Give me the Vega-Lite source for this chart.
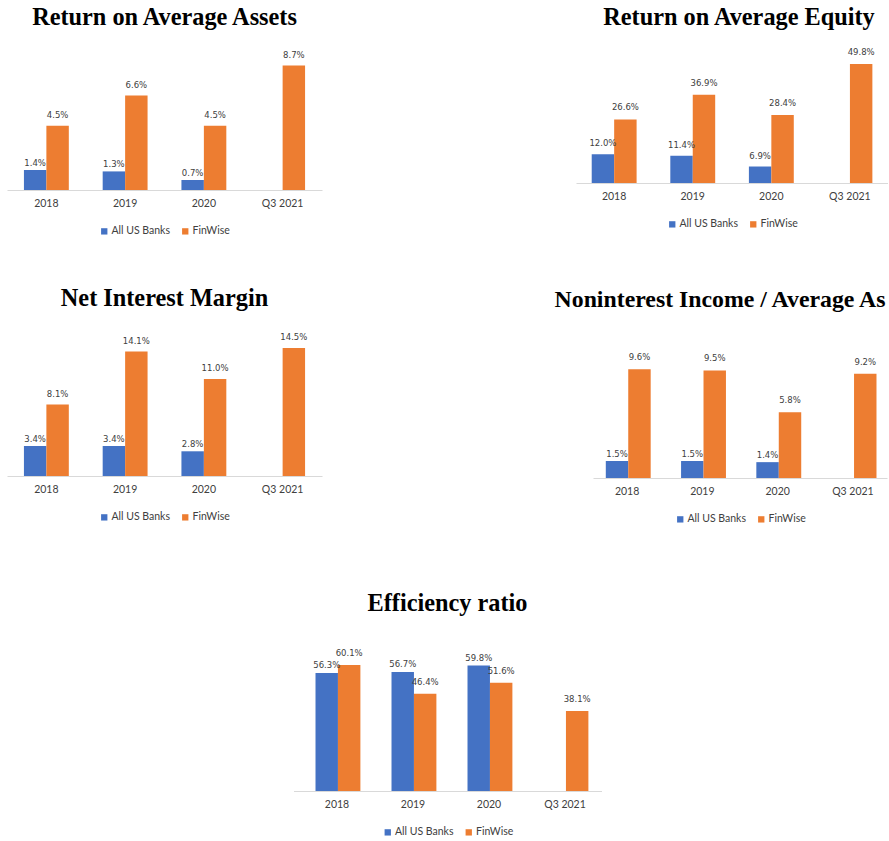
{
  "$schema": "https://vega.github.io/schema/vega-lite/v6.json",
  "padding": {"left": 7, "top": 6, "right": 0, "bottom": 0},
  "background": "white",
  "datasets": {
    "roa": [
      {"period": "2018", "series": "All US Banks", "value": 0.014},
      {"period": "2018", "series": "FinWise", "value": 0.045},
      {"period": "2019", "series": "All US Banks", "value": 0.013},
      {"period": "2019", "series": "FinWise", "value": 0.066},
      {"period": "2020", "series": "All US Banks", "value": 0.007},
      {"period": "2020", "series": "FinWise", "value": 0.045},
      {"period": "Q3 2021", "series": "FinWise", "value": 0.087}
    ],
    "roe": [
      {"period": "2018", "series": "All US Banks", "value": 0.12},
      {"period": "2018", "series": "FinWise", "value": 0.266},
      {"period": "2019", "series": "All US Banks", "value": 0.114},
      {"period": "2019", "series": "FinWise", "value": 0.369},
      {"period": "2020", "series": "All US Banks", "value": 0.069},
      {"period": "2020", "series": "FinWise", "value": 0.284},
      {"period": "Q3 2021", "series": "FinWise", "value": 0.498}
    ],
    "nim": [
      {"period": "2018", "series": "All US Banks", "value": 0.034},
      {"period": "2018", "series": "FinWise", "value": 0.081},
      {"period": "2019", "series": "All US Banks", "value": 0.034},
      {"period": "2019", "series": "FinWise", "value": 0.141},
      {"period": "2020", "series": "All US Banks", "value": 0.028},
      {"period": "2020", "series": "FinWise", "value": 0.11},
      {"period": "Q3 2021", "series": "FinWise", "value": 0.145}
    ],
    "nii": [
      {"period": "2018", "series": "All US Banks", "value": 0.015},
      {"period": "2018", "series": "FinWise", "value": 0.096},
      {"period": "2019", "series": "All US Banks", "value": 0.015},
      {"period": "2019", "series": "FinWise", "value": 0.095},
      {"period": "2020", "series": "All US Banks", "value": 0.014},
      {"period": "2020", "series": "FinWise", "value": 0.058},
      {"period": "Q3 2021", "series": "FinWise", "value": 0.092}
    ],
    "eff": [
      {"period": "2018", "series": "All US Banks", "value": 0.563},
      {"period": "2018", "series": "FinWise", "value": 0.601},
      {"period": "2019", "series": "All US Banks", "value": 0.567},
      {"period": "2019", "series": "FinWise", "value": 0.464},
      {"period": "2020", "series": "All US Banks", "value": 0.598},
      {"period": "2020", "series": "FinWise", "value": 0.516},
      {"period": "Q3 2021", "series": "FinWise", "value": 0.381}
    ]
  },
  "vconcat": [
    {
      "vconcat": [
        {
          "hconcat": [
            {
              "data": {"name": "roa"},
              "title": {"text": "Return on Average Assets"},
              "width": 315, "height": 143,
              "encoding": {
                "x": {"field": "period", "type": "nominal", "sort": ["2018", "2019", "2020", "Q3 2021"], "title": null, "scale": {"paddingInner": 0.43, "paddingOuter": 0.215}},
                "xOffset": {"field": "series", "type": "nominal", "scale": {"domain": ["All US Banks", "FinWise"], "paddingInner": 0, "paddingOuter": 0}},
                "y": {"field": "value", "type": "quantitative", "scale": {"domain": [0, 0.1]}, "axis": null}
              },
              "layer": [
                {"mark": {"type": "bar"}, "encoding": {"color": {"field": "series", "type": "nominal", "scale": {"domain": ["All US Banks", "FinWise"], "range": ["#4472C4", "#ED7D31"]}, "legend": {"title": null}}}},
                {"transform": [{"filter": "datum.series === 'FinWise'"}], "mark": {"type": "text", "baseline": "bottom", "dy": -6}, "encoding": {"text": {"field": "value", "type": "quantitative", "format": ".1%"}}},
                {"transform": [{"filter": "datum.series === 'All US Banks'"}], "mark": {"type": "text", "baseline": "bottom", "dy": -2}, "encoding": {"text": {"field": "value", "type": "quantitative", "format": ".1%"}}}
              ]
            },
            {
              "data": {"name": "roe"},
              "title": {"text": "Return on Average Equity", "dx": 7},
              "width": 312, "height": 136,
              "encoding": {
                "x": {"field": "period", "type": "nominal", "sort": ["2018", "2019", "2020", "Q3 2021"], "title": null, "scale": {"paddingInner": 0.43, "paddingOuter": 0.2}},
                "xOffset": {"field": "series", "type": "nominal", "scale": {"domain": ["All US Banks", "FinWise"], "paddingInner": 0, "paddingOuter": 0}},
                "y": {"field": "value", "type": "quantitative", "scale": {"domain": [0, 0.569]}, "axis": null}
              },
              "layer": [
                {"mark": {"type": "bar"}, "encoding": {"color": {"field": "series", "type": "nominal", "scale": {"domain": ["All US Banks", "FinWise"], "range": ["#4472C4", "#ED7D31"]}, "legend": {"title": null}}}},
                {"transform": [{"filter": "datum.series === 'FinWise'"}], "mark": {"type": "text", "baseline": "bottom", "dy": -7}, "encoding": {"text": {"field": "value", "type": "quantitative", "format": ".1%"}}},
                {"transform": [{"filter": "datum.series === 'All US Banks'"}], "mark": {"type": "text", "baseline": "bottom", "dy": -6}, "encoding": {"text": {"field": "value", "type": "quantitative", "format": ".1%"}}}
              ]
            }
          ],
          "spacing": 254,
          "resolve": {"scale": {"x": "independent", "y": "independent", "color": "independent"}, "legend": {"color": "independent"}}
        },
        {
          "hconcat": [
            {
              "data": {"name": "nim"},
              "title": {"text": "Net Interest Margin"},
              "width": 315, "height": 148,
              "encoding": {
                "x": {"field": "period", "type": "nominal", "sort": ["2018", "2019", "2020", "Q3 2021"], "title": null, "scale": {"paddingInner": 0.43, "paddingOuter": 0.215}},
                "xOffset": {"field": "series", "type": "nominal", "scale": {"domain": ["All US Banks", "FinWise"], "paddingInner": 0, "paddingOuter": 0}},
                "y": {"field": "value", "type": "quantitative", "scale": {"domain": [0, 0.1677]}, "axis": null}
              },
              "layer": [
                {"mark": {"type": "bar"}, "encoding": {"color": {"field": "series", "type": "nominal", "scale": {"domain": ["All US Banks", "FinWise"], "range": ["#4472C4", "#ED7D31"]}, "legend": {"title": null}}}},
                {"transform": [{"filter": "datum.series === 'FinWise'"}], "mark": {"type": "text", "baseline": "bottom", "dy": -6}, "encoding": {"text": {"field": "value", "type": "quantitative", "format": ".1%"}}},
                {"transform": [{"filter": "datum.series === 'All US Banks'"}], "mark": {"type": "text", "baseline": "bottom", "dy": -2}, "encoding": {"text": {"field": "value", "type": "quantitative", "format": ".1%"}}}
              ]
            },
            {
              "data": {"name": "nii"},
              "title": {"text": "Noninterest Income / Average As", "dx": -20, "fontSize": 23.8},
              "width": 294, "height": 150,
              "encoding": {
                "x": {"field": "period", "type": "nominal", "sort": ["2018", "2019", "2020", "Q3 2021"], "title": null, "scale": {"paddingInner": 0.434, "paddingOuter": 0.17}},
                "xOffset": {"field": "series", "type": "nominal", "scale": {"domain": ["All US Banks", "FinWise"], "paddingInner": 0, "paddingOuter": 0}},
                "y": {"field": "value", "type": "quantitative", "scale": {"domain": [0, 0.1325]}, "axis": null}
              },
              "layer": [
                {"mark": {"type": "bar"}, "encoding": {"color": {"field": "series", "type": "nominal", "scale": {"domain": ["All US Banks", "FinWise"], "range": ["#4472C4", "#ED7D31"]}, "legend": {"title": null}}}},
                {"transform": [{"filter": "datum.series === 'FinWise'"}], "mark": {"type": "text", "baseline": "bottom", "dy": -7}, "encoding": {"text": {"field": "value", "type": "quantitative", "format": ".1%"}}},
                {"transform": [{"filter": "datum.series === 'All US Banks'"}], "mark": {"type": "text", "baseline": "bottom", "dy": -2}, "encoding": {"text": {"field": "value", "type": "quantitative", "format": ".1%"}}}
              ]
            }
          ],
          "spacing": 231,
          "resolve": {"scale": {"x": "independent", "y": "independent", "color": "independent"}, "legend": {"color": "independent"}}
        }
      ],
      "spacing": 50,
      "resolve": {"scale": {"x": "independent", "y": "independent", "color": "independent"}, "legend": {"color": "independent"}}
    },
    {
      "data": {"name": "eff"},
      "title": {"text": "Efficiency ratio"},
      "width": 308, "height": 158,
      "encoding": {
        "x": {"field": "period", "type": "nominal", "sort": ["2018", "2019", "2020", "Q3 2021"], "title": null, "scale": {"paddingInner": 0.434, "paddingOuter": 0.2433, "align": 0.595}},
        "xOffset": {"field": "series", "type": "nominal", "scale": {"domain": ["All US Banks", "FinWise"], "paddingInner": 0, "paddingOuter": 0}},
        "y": {"field": "value", "type": "quantitative", "scale": {"domain": [0, 0.7536]}, "axis": null}
      },
      "layer": [
        {"mark": {"type": "bar"}, "encoding": {"color": {"field": "series", "type": "nominal", "scale": {"domain": ["All US Banks", "FinWise"], "range": ["#4472C4", "#ED7D31"]}, "legend": {"title": null}}}},
        {"transform": [{"filter": "datum.series === 'FinWise'"}], "mark": {"type": "text", "baseline": "bottom", "dy": -7}, "encoding": {"text": {"field": "value", "type": "quantitative", "format": ".1%"}}},
        {"transform": [{"filter": "datum.series === 'All US Banks'"}], "mark": {"type": "text", "baseline": "bottom", "dy": -3}, "encoding": {"text": {"field": "value", "type": "quantitative", "format": ".1%"}}}
      ]
    }
  ],
  "spacing": 67,
  "center": true,
  "resolve": {"scale": {"x": "independent", "y": "independent", "color": "independent"}, "legend": {"color": "independent"}},
  "config": {
    "view": {"stroke": null},
    "title": {"font": "Liberation Serif", "fontSize": 24.3, "fontWeight": "bold", "color": "#000000", "anchor": "middle", "offset": 16.7},
    "axisX": {"domainColor": "#D9D9D9", "domainWidth": 1, "ticks": false, "labelFont": "Lato", "labelFontSize": 10.5, "labelColor": "#404040", "labelPadding": 8, "labelAngle": 0, "grid": false},
    "legend": {"orient": "bottom", "direction": "horizontal", "symbolType": "square", "symbolSize": 40, "symbolStrokeWidth": 0, "labelFont": "Lato", "labelFontSize": 10.5, "labelColor": "#404040", "columnPadding": 9, "labelOffset": 2, "offset": 17, "padding": 0, "layout": {"bottom": {"anchor": "middle"}}},
    "text": {"font": "DejaVu Sans", "fontSize": 8.5, "color": "#404040"}
  }
}
